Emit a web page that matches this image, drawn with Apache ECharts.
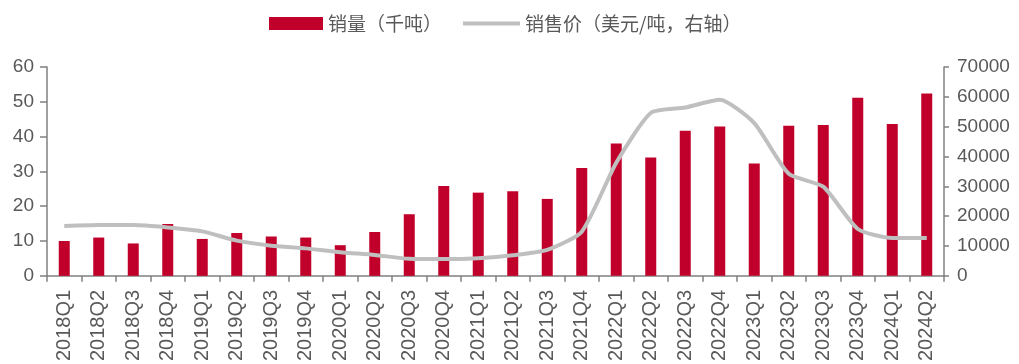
<!DOCTYPE html>
<html><head><meta charset="utf-8">
<script src="https://cdn.jsdelivr.net/npm/echarts@6/dist/echarts.min.js"></script>
<style>html,body{margin:0;padding:0;background:#fff}#c{width:1019px;height:364px}</style>
</head><body><div id="c"></div>
<script>
const categories = ['2018Q1','2018Q2','2018Q3','2018Q4','2019Q1','2019Q2','2019Q3','2019Q4','2020Q1','2020Q2','2020Q3','2020Q4','2021Q1','2021Q2','2021Q3','2021Q4','2022Q1','2022Q2','2022Q3','2022Q4','2023Q1','2023Q2','2023Q3','2023Q4','2024Q1','2024Q2'];
const volume = [10.0,11.0,9.3,14.9,10.6,12.3,11.3,11.0,8.8,12.6,17.7,25.8,23.9,24.3,22.1,31.0,38.0,34.0,41.7,42.9,32.3,43.1,43.3,51.2,43.6,52.4];
const price = [16700,17000,17000,16200,14900,11800,10100,9200,7900,7000,5700,5600,5900,6900,8700,14800,37900,54600,56400,59000,51200,34200,29900,15700,12700,12700];
const volName = '销量（千吨）';
const priceName = '销售价（美元/吨，右轴）';

const chart = echarts.init(document.getElementById('c'));
const axisGray = '#808080';
const txtGray = '#595959';
const legendText = {fontFamily: 'Noto Sans CJK SC', fontSize: 19, color: txtGray};
chart.setOption({
  animation: false,
  textStyle: {fontFamily: 'Liberation Sans, Arial, sans-serif'},
  legend: [{
    top: 9, left: 264, itemWidth: 54, itemHeight: 13, itemGap: 18,
    textStyle: legendText,
    data: [{name: volName, icon: 'rect'}]
  }, {
    top: 9, left: 458, itemWidth: 57, itemHeight: 4,
    textStyle: legendText,
    data: [{name: priceName, icon: 'rect', itemStyle: {color: '#BFBFBF'}}]
  }],
  grid: {left: 47, right: 75, top: 67, bottom: 87, containLabel: false},
  xAxis: {
    type: 'category', data: categories, boundaryGap: true,
    axisLine: {lineStyle: {color: axisGray, width: 1.5}},
    axisTick: {show: true, length: 6, lineStyle: {color: axisGray, width: 1.5}},
    axisLabel: {rotate: 90, color: txtGray, fontSize: 20, margin: 14, interval: 0}
  },
  yAxis: [{
    type: 'value', min: 0, max: 60, interval: 10,
    axisLine: {show: true, lineStyle: {color: axisGray, width: 1.5}},
    axisTick: {show: true, length: 7, lineStyle: {color: axisGray, width: 1.5}},
    splitLine: {show: false},
    axisLabel: {color: txtGray, fontSize: 19, margin: 13}
  }, {
    type: 'value', min: 0, max: 70000, interval: 10000, position: 'right',
    axisLine: {show: true, lineStyle: {color: axisGray, width: 1.5}},
    axisTick: {show: true, length: 5, lineStyle: {color: axisGray, width: 1.5}},
    splitLine: {show: false},
    axisLabel: {color: txtGray, fontSize: 19, margin: 13, formatter: v => String(v)}
  }],
  series: [{
    name: volName, type: 'bar', data: volume, barWidth: 11,
    itemStyle: {color: '#C0002A'}
  }, {
    name: priceName, type: 'line', yAxisIndex: 1, data: price,
    smooth: 0.2, symbol: 'none',
    lineStyle: {color: '#BFBFBF', width: 4},
    itemStyle: {color: '#BFBFBF'}
  }]
});
</script></body></html>
